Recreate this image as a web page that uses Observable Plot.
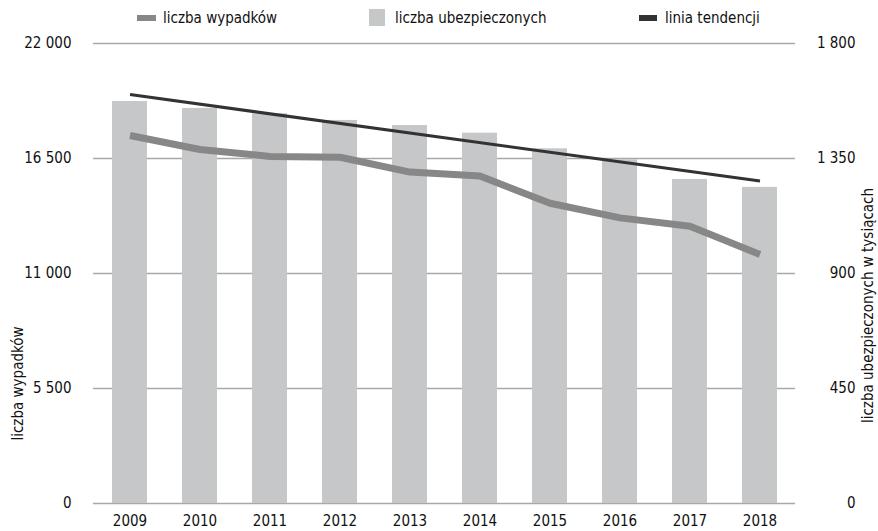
<!DOCTYPE html>
<html>
<head>
<meta charset="utf-8">
<script src="https://cdn.jsdelivr.net/npm/d3@7"></script>
<script src="https://cdn.jsdelivr.net/npm/@observablehq/plot@0.6"></script>
<style>
  html, body { margin: 0; padding: 0; background: #fff; }
  body { width: 878px; height: 531px; overflow: hidden; font-family: "Liberation Sans Narrow", "DejaVu Sans Condensed", sans-serif; }
  #legend { position: relative; height: 30px; font-size: 15px; color: #111; }
  .item { position: absolute; line-height: 20px; white-space: nowrap; }
  .sw { position: absolute; }
</style>
</head>
<body>
<div id="legend"></div>
<div id="chart"></div>
<script>
const years = [2009, 2010, 2011, 2012, 2013, 2014, 2015, 2016, 2017, 2018];
const wypadki = [17600, 16930, 16600, 16560, 15850, 15660, 14360, 13660, 13260, 11910];
const ubezpieczeni = [1573, 1546, 1525, 1499, 1479, 1449, 1388, 1345, 1268, 1237];
const trendYears = [2009, 2018];
const trendValues = [1600, 1262];
const leftTicks = [0, 5500, 11000, 16500, 22000];
const rightTicks = [0, 450, 900, 1350, 1800];
const legendLabels = ["liczba wypadków", "liczba ubezpieczonych", "linia tendencji"];
const axisTitles = ["liczba wypadków", "liczba ubezpieczonych w tysiącach"];

const colBars = "#c6c7c9", colLine = "#878787", colTrend = "#333333", colGrid = "#a8a8a8";
const ratio = 22000 / 1800;
const fmt = d3.formatLocale({thousands: "\u00a0", grouping: [3], decimal: ","}).format(",");
const font = '"Liberation Sans Narrow", "DejaVu Sans Condensed", sans-serif';
const fs = 15;

// legend
const legend = document.getElementById("legend");
const legendSpec = [
  {label: legendLabels[0], sx: 137, sy: 15, sw: 19, sh: 6, c: colLine, tx: 163},
  {label: legendLabels[1], sx: 369, sy: 9, sw: 16, sh: 17, c: colBars, tx: 395},
  {label: legendLabels[2], sx: 639, sy: 15, sw: 18, sh: 6, c: colTrend, tx: 665}
];
for (const s of legendSpec) {
  const sw = document.createElement("div");
  sw.className = "sw";
  Object.assign(sw.style, {left: s.sx + "px", top: s.sy + "px", width: s.sw + "px", height: s.sh + "px", background: s.c});
  legend.appendChild(sw);
  const t = document.createElement("div");
  t.className = "item";
  t.style.left = s.tx + "px";
  t.style.top = "8px";
  t.textContent = s.label;
  legend.appendChild(t);
}

const barData = years.map((y, i) => ({year: y, v: ubezpieczeni[i] * ratio}));
const lineData = years.map((y, i) => ({year: y, v: wypadki[i]}));
const trendData = trendYears.map((y, i) => ({year: y, v: trendValues[i] * ratio}));

const chart = Plot.plot({
  width: 878,
  height: 501,
  marginLeft: 93,
  marginRight: 83,
  marginTop: 13,
  marginBottom: 28,
  style: {fontFamily: font, fontSize: fs + "px", color: "#111", background: "#fff", overflow: "visible"},
  x: {type: "band", domain: years, paddingInner: 0.5, paddingOuter: 0.25, axis: null},
  y: {domain: [0, 22000], axis: null},
  marks: [
    Plot.ruleY(leftTicks, {stroke: colGrid, strokeWidth: 1.4}),
    Plot.barY(barData, {x: "year", y: "v", fill: colBars}),
    Plot.line(lineData, {x: "year", y: "v", stroke: colLine, strokeWidth: 7, strokeLinecap: "butt", strokeLinejoin: "round"}),
    Plot.line(trendData, {x: "year", y: "v", stroke: colTrend, strokeWidth: 3, strokeLinecap: "butt"}),
    Plot.axisX({tickSize: 0, tickPadding: 12, label: null, fontSize: fs, tickFormat: d => String(d)}),
    Plot.text(leftTicks, {y: d => d, text: d => fmt(d), frameAnchor: "left", dx: -22, textAnchor: "end", fontSize: fs, fill: "#111"}),
    Plot.text(rightTicks, {y: d => d * ratio, text: d => fmt(d), frameAnchor: "right", dx: 60, textAnchor: "end", fontSize: fs, fill: "#111"}),
    Plot.text([axisTitles[0]], {frameAnchor: "left", dx: -75, dy: 110, rotate: -90, textAnchor: "middle", lineAnchor: "middle", fontSize: fs, fill: "#111"}),
    Plot.text([axisTitles[1]], {frameAnchor: "right", dx: 73, dy: 32, rotate: -90, textAnchor: "middle", lineAnchor: "middle", fontSize: fs, fill: "#111"})
  ]
});
document.getElementById("chart").appendChild(chart);
</script>
</body>
</html>
